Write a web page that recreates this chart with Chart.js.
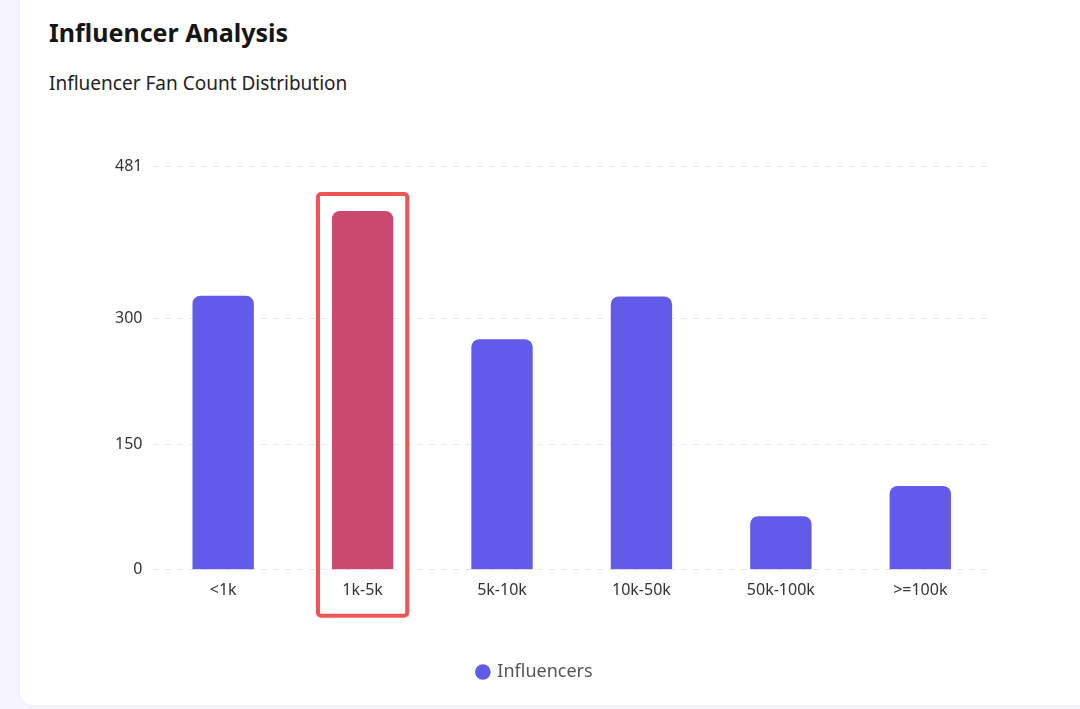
<!DOCTYPE html>
<html lang="en">
<head>
    <meta charset="UTF-8">
    <title>Influencer Analysis</title>
    <script src="https://cdn.jsdelivr.net/npm/chart.js"></script>
    <style>
        html, body {
            margin: 0;
            padding: 0;
            width: 1080px;
            height: 709px;
            overflow: hidden;
            background-color: #f5f3fd;
            font-family: "Noto Sans", sans-serif;
        }
        .card {
            position: absolute;
            left: 20px;
            top: -20px;
            width: 1100px;
            height: 725px;
            background: #fff;
            border-radius: 12px;
            box-shadow: 0 0 3px rgba(0, 0, 0, 0.06);
        }
        h2 {
            position: absolute;
            left: 49px;
            top: 15px;
            margin: 0;
            font-size: 25px;
            font-weight: 700;
            color: #161616;
        }
        .sub {
            position: absolute;
            left: 49px;
            top: 70px;
            margin: 0;
            font-size: 19px;
            color: #222;
        }
        .chart-box {
            position: absolute;
            left: 80px;
            top: 146px;
            width: 910px;
            height: 545px;
        }
    </style>
</head>
<body>
    <div class="card"></div>
    <h2>Influencer Analysis</h2>
    <p class="sub">Influencer Fan Count Distribution</p>
    <div class="chart-box">
        <canvas id="fanChart"></canvas>
    </div>

    <script>
        const categorias = ["<1k", "1k-5k", "5k-10k", "10k-50k", "50k-100k", ">=100k"];
        const influencers = [327, 428, 275, 326, 64, 100];
        const ticksY = [0, 150, 300, 481];
        const destacado = 1; // barra resaltada (1k-5k)

        const colorBarra = "#625ae8";
        const colorDestacado = "#c94a6e";

        // recuadro rojo alrededor de la categoria destacada
        const recuadro = {
            id: "recuadro",
            afterDraw(chart) {
                const x = chart.scales.x;
                const y = chart.scales.y;
                const cx = x.getPixelForValue(destacado);
                const medio = (x.getPixelForValue(1) - x.getPixelForValue(0)) / 2;
                const ancho = medio * 0.64;
                const top = y.getPixelForValue(influencers[destacado]) - 17;
                const bottom = y.getPixelForValue(0) + 46;
                const ctx = chart.ctx;
                ctx.save();
                ctx.strokeStyle = "#f05555";
                ctx.lineWidth = 4;
                ctx.beginPath();
                ctx.roundRect(cx - ancho, top, ancho * 2, bottom - top, 3);
                ctx.stroke();
                ctx.restore();
            }
        };

        new Chart(document.getElementById("fanChart"), {
            type: "bar",
            data: {
                labels: categorias,
                datasets: [{
                    label: "Influencers",
                    data: influencers,
                    backgroundColor: categorias.map((c, i) => i === destacado ? colorDestacado : colorBarra),
                    borderRadius: { topLeft: 8, topRight: 8 },
                    borderSkipped: "start",
                    barPercentage: 0.55,
                    categoryPercentage: 0.8
                }]
            },
            options: {
                responsive: true,
                maintainAspectRatio: false,
                animation: false,
                layout: { padding: { left: 0, top: 20, right: 0, bottom: 0 } },
                plugins: {
                    legend: {
                        position: "bottom",
                        labels: {
                            usePointStyle: true,
                            pointStyle: "circle",
                            boxWidth: 11,
                            boxHeight: 11,
                            padding: 60,
                            color: "#555",
                            font: { family: "Noto Sans", size: 18 },
                            generateLabels: () => [{
                                text: "Influencers",
                                fillStyle: colorBarra,
                                strokeStyle: colorBarra,
                                lineWidth: 0,
                                pointStyle: "circle",
                                fontColor: "#555"
                            }]
                        }
                    },
                    tooltip: { enabled: false }
                },
                scales: {
                    x: {
                        grid: { display: false },
                        border: { display: false },
                        ticks: {
                            color: "#333",
                            font: { family: "Noto Sans", size: 16 },
                            padding: 3
                        }
                    },
                    y: {
                        min: 0,
                        max: 481,
                        afterBuildTicks: (axis) => {
                            axis.ticks = ticksY.map(v => ({ value: v }));
                        },
                        afterFit: (axis) => {
                            axis.width += 24;
                        },
                        grid: {
                            color: "#e8e8ec",
                            lineWidth: 1,
                            drawTicks: false
                        },
                        border: { display: false, dash: [6, 6] },
                        ticks: {
                            color: "#333",
                            font: { family: "Noto Sans", size: 16 },
                            padding: 11
                        }
                    }
                }
            },
            plugins: [recuadro]
        });
    </script>
</body>
</html>
